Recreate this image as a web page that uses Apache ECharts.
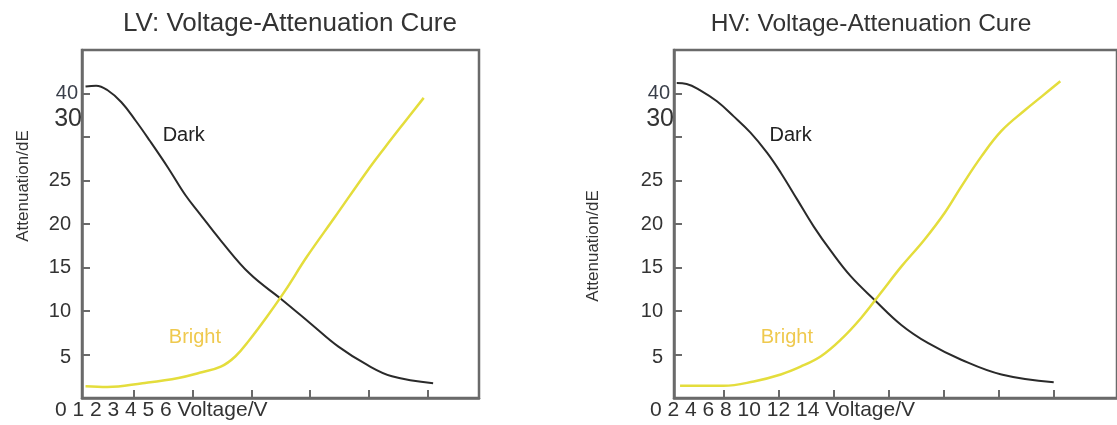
<!DOCTYPE html>
<html><head><meta charset="utf-8">
<script src="https://cdn.jsdelivr.net/npm/echarts@6/dist/echarts.min.js"></script>
<style>html,body{margin:0;padding:0;background:#fff}#c{width:1117px;height:425px}</style>
</head><body><div id="c"></div>
<script>
// ---- text ----
const titles = ['LV: Voltage-Attenuation Cure', 'HV: Voltage-Attenuation Cure'];
const xLabelLV = '0 1 2 3 4 5 6 Voltage/V';
const xLabelHV = '0 2 4 6 8 10 12 14 Voltage/V';
const yName = 'Attenuation/dE';
const seriesNames = ['Dark', 'Bright'];
// ---- ticks ----
const yTickValues = [5, 10, 15, 20, 25, 30, 35];
const yLabelValues = [4.6, 10, 15, 20, 25, 32.1, 35];
const yLabelTexts = ['5', '10', '15', '20', '25', '30', '40'];
const xTicksLV = [1, 2, 3, 4, 5, 6];
const xTicksHV = [1, 2, 3, 4, 5, 6, 7];
// ---- data (x in tick units, y in dE) ----
const lvDark = [[0.18,35.8],[0.36,35.9],[0.55,35.4],[0.79,34.0],[1.03,31.9],[1.27,29.6],[1.58,26.5],[1.88,23.3],[2.12,21.2],[2.48,18.1],[2.97,14.3],[3.52,11.3],[4.00,8.6],[4.48,5.9],[4.97,3.8],[5.39,2.5],[6.09,1.7]];
const lvBright = [[0.18,1.34],[0.55,1.26],[1.15,1.7],[1.76,2.3],[2.12,2.9],[2.48,3.6],[2.73,4.8],[2.97,6.7],[3.27,9.4],[3.58,12.4],[3.94,16.2],[4.42,20.8],[4.97,26.1],[5.27,28.8],[5.58,31.5],[5.93,34.5]];
const hvDark = [[0.15,36.2],[0.33,36.1],[0.57,35.4],[0.88,34.1],[1.18,32.4],[1.49,30.5],[1.79,28.2],[2.04,25.9],[2.34,22.8],[2.64,19.7],[2.95,16.9],[3.31,14.0],[3.74,11.3],[4.23,8.4],[4.72,6.3],[5.32,4.4],[6.05,2.7],[7.00,1.8]];
const hvBright = [[0.21,1.4],[1.0,1.4],[1.55,1.9],[2.04,2.7],[2.40,3.6],[2.77,4.8],[3.13,6.7],[3.50,9.2],[3.86,12.1],[4.23,15.1],[4.65,18.2],[5.02,21.3],[5.32,24.3],[5.69,27.8],[6.05,30.7],[6.48,33.1],[6.79,34.7],[7.12,36.4]];
// label anchors in data coordinates
const lvDarkAt = [1.85, 30.2], lvBrightAt = [2.04, 7.0];
const hvDarkAt = [2.22, 30.2], hvBrightAt = [2.15, 7.0];

const FF = '"Liberation Sans", Arial, Helvetica, sans-serif';
const AX = '#6a6a6a';
const DARK = '#2a2a2a', YEL = '#e4dd3c', YEL_TXT = '#efc94e';

function yLabelFmt(v) {
  let best = 0, d = 1e9;
  yLabelValues.forEach((t, i) => { if (Math.abs(t - v) < d) { d = Math.abs(t - v); best = i; } });
  const txt = yLabelTexts[best];
  const key = txt === '30' ? 't' : (txt === '40' ? 'f' : 'n');
  return '{' + key + '|' + txt + '}';
}
function yAxis(gi, nameGap, namePad) {
  return {
    type: 'value', gridIndex: gi, min: 0, max: 40,
    name: yName, nameLocation: 'middle', nameGap: nameGap, nameRotate: 90,
    nameTextStyle: { fontSize: 17, color: '#333', fontFamily: FF, padding: namePad },
    axisLine: { show: true, lineStyle: { color: AX, width: 2.5 } },
    axisTick: { show: true, inside: true, length: 8, customValues: yTickValues, lineStyle: { color: AX, width: 2 } },
    axisLabel: {
      customValues: yLabelValues, margin: 0, formatter: yLabelFmt,
      rich: {
        n: { fontSize: 20, color: '#333', fontFamily: FF, padding: [0, 11, 0, 0] },
        f: { fontSize: 20, color: '#3a3f4a', fontFamily: FF, padding: [0, 4, 0, 0] },
        t: { fontSize: 25, color: '#333', fontFamily: FF, padding: [0, 0, 0, 0] }
      }
    },
    splitLine: { show: false }
  };
}
function xAxis(gi, min, max, ticks, name, gap) {
  return {
    type: 'value', gridIndex: gi, min: min, max: max,
    name: name, nameLocation: 'start', nameGap: gap,
    nameTextStyle: { fontSize: 21, color: '#333', fontFamily: FF, align: 'left', verticalAlign: 'top', padding: [2, 0, 0, 0] },
    axisLine: { show: true, lineStyle: { color: AX, width: 2.5 } },
    axisTick: { show: true, inside: true, length: 8, customValues: ticks, lineStyle: { color: AX, width: 2 } },
    axisLabel: { show: false },
    splitLine: { show: false }
  };
}
function mark(text, at, color) {
  return {
    symbol: 'circle', symbolSize: 0, silent: true,
    label: { show: true, position: 'inside', formatter: text, color: color, fontSize: 20, fontFamily: FF },
    data: [{ coord: at }]
  };
}
function line(name, data, gi, color, width, mp) {
  return {
    type: 'line', name: name, xAxisIndex: gi, yAxisIndex: gi, data: data,
    smooth: 0.4, showSymbol: false, symbol: 'none',
    lineStyle: { color: color, width: width },
    markPoint: mp, animation: false
  };
}

const chart = echarts.init(document.getElementById('c'));
chart.setOption({
  backgroundColor: '#fff',
  animation: false,
  title: [
    { text: titles[0], left: 285, top: 6, textAlign: 'center', textStyle: { fontSize: 26, fontWeight: 'normal', color: '#333', fontFamily: FF } },
    { text: titles[1], left: 866, top: 7, textAlign: 'center', textStyle: { fontSize: 24.5, fontWeight: 'normal', color: '#333', fontFamily: FF } }
  ],
  grid: [
    { left: 82, top: 50, width: 397, height: 348, show: true, borderColor: AX, borderWidth: 2.5, containLabel: false },
    { left: 674, top: 50, width: 470, height: 348, show: true, borderColor: AX, borderWidth: 2.5, containLabel: false }
  ],
  xAxis: [
    xAxis(0, 0.12, 6.87, xTicksLV, xLabelLV, 27),
    xAxis(1, 0.10, 8.15, xTicksHV, xLabelHV, 24)
  ],
  yAxis: [
    yAxis(0, 50, [0, 0, 0, 76]),
    yAxis(1, 72, [0, 44, 0, 0])
  ],
  series: [
    line(seriesNames[0], lvDark, 0, DARK, 2, mark(seriesNames[0], lvDarkAt, '#222')),
    line(seriesNames[1], lvBright, 0, YEL, 2.5, mark(seriesNames[1], lvBrightAt, YEL_TXT)),
    line(seriesNames[0], hvDark, 1, DARK, 2, mark(seriesNames[0], hvDarkAt, '#222')),
    line(seriesNames[1], hvBright, 1, YEL, 2.5, mark(seriesNames[1], hvBrightAt, YEL_TXT))
  ]
});
</script>
</body></html>
